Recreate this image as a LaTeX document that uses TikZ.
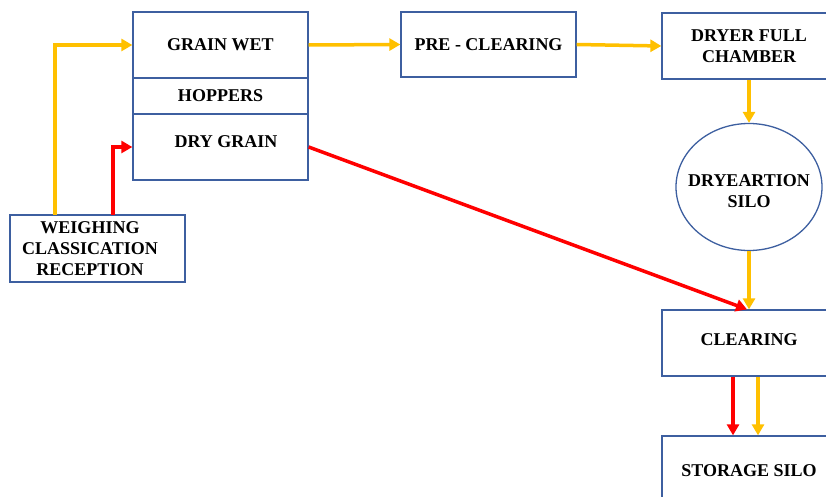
\documentclass[tikz,border=0pt]{standalone}
\usepackage{fontspec}
\setmainfont{Liberation Serif}
\usetikzlibrary{arrows.meta,shapes.geometric}
\definecolor{bord}{RGB}{61,95,160}
\definecolor{orng}{RGB}{255,192,0}
\definecolor{rd}{RGB}{255,0,0}
\tikzset{
  box/.style={draw=bord,line width=1.3pt,fill=white,inner sep=0pt,
    font=\fontsize{18}{21}\selectfont\bfseries,align=center},
  lbl/.style={inner sep=0pt,font=\fontsize{18}{21}\selectfont\bfseries,align=center},
  flowo/.style={draw=orng,line width=3.5pt,-{Triangle[length=11pt,width=12pt]}},
  flowr/.style={draw=rd,line width=3.5pt,-{Triangle[length=11pt,width=12pt]}},
}
\begin{document}
\begin{tikzpicture}[x=1pt,y=-1pt]
\useasboundingbox (0,0) rectangle (826,497);
\clip (0,0) rectangle (826,497);
% hopper block
\node[box,minimum width=175,minimum height=66] (gw) at (220.5,45) {GRAIN WET};
\node[box,minimum width=175,minimum height=36] (hop) at (220.5,96) {HOPPERS};
\node[box,minimum width=175,minimum height=66] (dg) at (220.5,147) {};
\node[lbl] (dgt) at (226,142) {DRY GRAIN};
% weighing
\node[box,minimum width=175,minimum height=67] (wc) at (97.5,248.5) {};
\node[lbl] (wct) at (90,249) {WEIGHING\\CLASSICATION\\RECEPTION};
% top row
\node[box,minimum width=175,minimum height=65] (pre) at (488.5,44.5) {PRE - CLEARING};
\node[box,minimum width=174,minimum height=66] (dry) at (749,46) {DRYER FULL\\CHAMBER};
% silo
\node[box,ellipse,minimum width=146,minimum height=127] (silo) at (749,187) {};
\node[lbl] (silot) at (749,191) {DRYEARTION\\SILO};
% clearing and storage
\node[box,minimum width=174,minimum height=66] (clr) at (749,343) {};
\node[lbl] (clrt) at (749,340) {CLEARING};
\node[box,minimum width=174,minimum height=70] (st) at (749,471) {STORAGE SILO};
% connectors
\coordinate (wo) at (55,215);
\coordinate (wr) at (113,215);
\draw[flowo] (wo) |- (gw.west);
\draw[flowr] (wr) |- (dg.west);
\draw[flowo] (gw.east) -- (pre.west);
\draw[flowo] (pre.east) -- (dry.west);
\draw[flowo] (dry.south) -- (silo.north);
\draw[flowo] (silo.south) -- (clr.north);
\draw[flowr] (dg.east) -- ([xshift=-2]clr.north);
\draw[flowr] ([xshift=-16]clr.south) -- ([xshift=-16]st.north);
\draw[flowo] ([xshift=9]clr.south) -- ([xshift=9]st.north);
\end{tikzpicture}
\end{document}
